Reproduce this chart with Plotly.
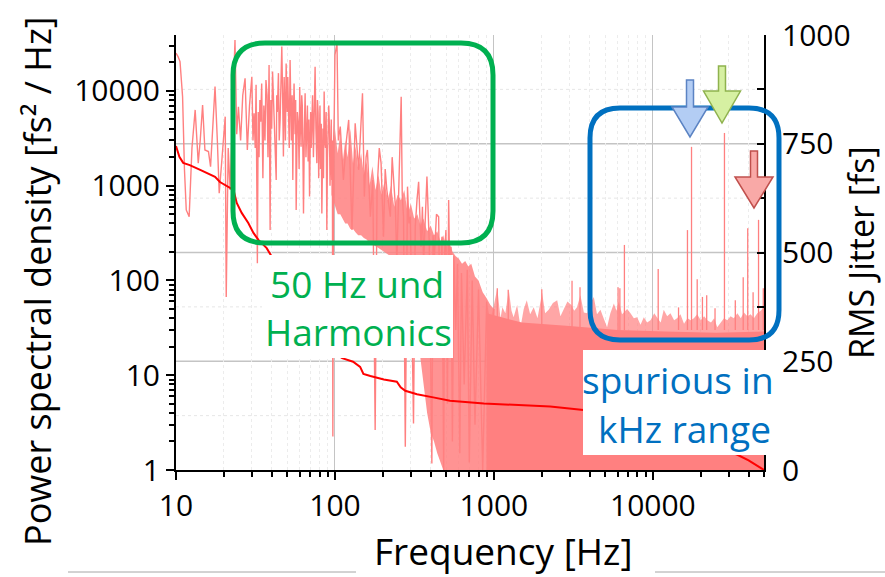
import plotly.graph_objects as go

# ---------------- data ----------------
# low-frequency PSD line [Hz], [fs^2/Hz]
low_f = [10.0, 10.3, 10.6, 11.0, 11.3, 11.6, 12.1, 12.6, 13.2, 13.8, 14.2, 14.7, 15.2, 16.0, 16.5, 17.0, 17.6,
         18.2, 18.7, 19.5, 20.4, 20.7, 21.3, 21.9, 22.8, 23.5, 24.1, 24.7, 25.5, 26.3, 27.2, 28.1, 29.0,
         30.0, 30.5, 31.0, 31.5, 31.9, 32.5, 32.9, 33.3, 33.7, 34.1, 34.6, 35.2, 35.7, 36.3, 36.8, 37.4, 37.9,
         38.5, 39.1, 39.5, 40.0, 40.5, 41.0, 41.8, 42.7, 43.0, 43.4, 44.1, 44.6, 45.2, 45.8, 46.3, 46.9, 47.4,
         47.9, 48.3, 48.8, 49.3, 49.7, 50.1, 50.5, 51.0, 51.6, 52.2, 52.7, 53.2, 53.8, 54.3, 54.8, 55.3, 56.1,
         56.6, 57.0, 57.5, 58.0, 58.9, 59.5, 60.0, 60.6, 61.2, 61.8, 62.3, 62.9, 63.4, 64.2, 64.9, 65.7, 66.5,
         67.1, 67.8, 68.5, 69.2, 70.3, 70.9, 71.5, 72.3, 73.2, 74.1, 75.0, 75.9, 76.9, 77.6, 78.3, 79.0, 79.8,
         80.5, 81.2, 82.0, 82.7, 83.3, 84.0, 84.7, 85.5, 86.3, 87.2, 88.0, 88.9, 89.7, 90.5, 91.4, 92.3, 93.1,
         94.0, 94.8, 95.5, 96.3, 97.0, 97.5, 98.0, 99.0, 100, 103, 105, 108, 113, 118, 122, 128, 134, 141, 145,
         149, 153, 157, 160, 167, 173, 179, 184, 190, 195, 202, 207, 212, 223, 229, 234, 240, 245, 255, 261,
         265, 270, 277, 286, 292, 298, 312, 320, 328, 336, 348, 355, 361, 370, 379, 392, 400, 407, 414, 422,
         435, 449, 460, 471, 483, 490, 499, 510, 519, 528, 537, 548, 560, 575, 590, 610, 625, 650, 680, 700,
         730, 760, 800, 850, 900, 950, 1000]
low_v = [25000, 23000, 20400, 8700, 1500, 555, 471, 2500, 6300, 1730, 3000, 7100, 2380, 2290, 1590, 4000, 11100,
         3000, 832, 2000, 5350, 67, 2500, 900, 8000, 34500, 3500, 6800, 3000, 9000, 13600, 2380, 7000,
         14100, 3000, 5800, 2500, 11600, 152, 6000, 2000, 8000, 4740, 12000, 1200, 7000, 3000, 13000, 9000, 2000,
         18800, 341, 8000, 4000, 16000, 9460, 3000, 1150, 9000, 6000, 15400, 3000, 5000, 12000, 29400, 8000, 2030,
         14000, 8000, 3000, 19500, 9000, 6000, 14000, 5350, 2500, 21200, 7000, 3000, 9000, 1150, 6000, 12000, 3500,
         8000, 555, 5000, 6000, 4200, 1500, 11000, 5000, 2580, 9000, 7000, 2000, 510, 4000, 9460, 2000, 3300,
         7000, 1800, 5000, 767, 6000, 2500, 4560, 9000, 2000, 6000, 18000, 4000, 1730, 8000, 6000, 1200, 3870,
         7000, 1500, 4500, 510, 3000, 4000, 1200, 9840, 3000, 2500, 6000, 341, 2000, 3000, 7000, 4200, 1000,
         2000, 5000, 1150, 3000, 2.25, 1000, 2800, 6000, 24000, 31900, 3000, 4200, 1150, 3000, 4940, 341, 4560,
         1470, 3500, 9460, 767, 2000, 2380, 471, 1150, 2.64, 900, 2500, 1730, 290, 1500, 900, 471, 2000, 1150,
         600, 152, 3000, 8700, 800, 471, 1.76, 977, 400, 471, 3.1, 370, 700, 1100, 227, 600, 152, 500, 1250,
         247, 12, 1.17, 300, 178, 500, 471, 20, 290, 1.0, 200, 341, 5, 708, 100, 227, 2, 180, 30, 150, 1.5,
         120, 8, 130, 1.2, 100, 3, 80, 1.0, 60, 2, 50]

# dense mains-harmonic core (upper / lower edge)
core_f = [95, 100, 104, 108, 112, 116, 120, 125, 130, 135, 140, 146, 152, 158, 165, 172, 180, 188, 196, 205,
          215, 225, 236, 248, 260, 273, 287, 300, 315, 330, 345, 360, 380, 400, 420, 440, 460, 480, 500, 525,
          550, 575, 600, 630, 660, 690, 720, 760, 800, 850, 900, 950, 1000]
core_hi = [1500, 4000, 2200, 3500, 1800, 3000, 2000, 4000, 1700, 2600, 1500, 2200, 1300, 1800, 1000, 1600, 900,
           1300, 800, 1100, 700, 1000, 600, 800, 700, 900, 500, 650, 450, 500, 380, 450, 330, 380, 300, 330, 260,
           300, 230, 250, 200, 180, 170, 150, 160, 140, 150, 110, 100, 75, 65, 55, 50]
core_lo = [800, 600, 500, 500, 450, 400, 400, 350, 350, 320, 300, 300, 280, 270, 250, 240, 230, 220, 210, 200,
           190, 180, 170, 160, 150, 130, 110, 90, 60, 30, 15, 8, 4, 2.5, 2, 1.5, 1.2, 1, 0.5, 0.5,
           0.5, 0.5, 0.5, 0.5, 0.5, 0.5, 0.5, 0.5, 0.5, 0.5, 0.5, 0.5, 0.5]

# high-frequency noise floor (solid part) and ragged top
base_f = [900, 1500, 3000, 6000, 12000, 25000, 50000]
base_v = [45, 36, 33, 30, 29, 28, 29]
hf_f = [900, 950, 1000, 1050, 1100, 1130, 1180, 1240, 1290, 1330, 1400, 1470, 1540, 1610, 1690, 1780, 1880,
        2010, 2100, 2210, 2350, 2500, 2620, 2750, 2900, 3070, 3200, 3330, 3500, 3680, 3860, 4050, 4250, 4450,
        4680, 4900, 5150, 5400, 5680, 5900, 6100, 6400, 6890, 7230, 7590, 7960, 8360, 8770, 9200, 9660, 10200,
        10700, 11200, 11700, 12300, 12900, 13600, 14200, 14900, 15700, 16500, 17300, 18100, 19000, 20000,
        21000, 22000, 23200, 24300, 25400, 26700, 28000, 29400, 30800, 32300, 34000, 35700, 37400, 39300,
        41200, 43200, 45400, 47600, 50000]
hf_top = [60, 38, 55, 83, 40, 52, 45, 80, 48, 41, 55, 32, 50, 62, 44, 52, 40, 74, 45, 49, 58, 62, 42, 49, 60,
          55, 48, 52, 70, 46, 45, 58, 67, 44, 49, 40, 32, 45, 57, 48, 60, 44, 50, 45, 40, 41, 34, 41, 36, 38,
          45, 40, 36, 49, 42, 45, 38, 40, 44, 35, 40, 38, 40, 44, 38, 42, 38, 36, 40, 32, 36, 40, 38, 42, 40,
          45, 40, 46, 42, 44, 40, 45, 48, 52]

# spurious lines
spur_f = [1050, 1230, 2000, 3100, 3480, 6040, 6200, 6620, 10800, 14500, 16500, 17500, 19000, 20500, 21800,
          24600, 28200, 33000, 37000, 39500, 42700, 46200, 49500]
spur_v = [83, 80, 81, 99, 85, 85, 83, 237, 132, 52, 340, 2570, 103, 67, 70, 51, 3600, 62, 108, 356, 75, 436, 83]
spur_base = 30

# integrated RMS jitter [fs]
rms_f = [10, 10.5, 11.1, 12.2, 14.2, 16.4, 17.6, 18.9, 21.3, 23.0, 24.1, 25.9, 28.5, 30.7, 33.0, 37.2, 40.1,
         50, 60, 75, 90, 100, 111, 130, 144, 151, 167, 203, 245, 259, 277, 328, 415, 529, 864, 1400, 2260,
         3660, 5000, 7000, 10000, 15000, 17000, 18000, 25000, 28000, 29000, 34000, 40000, 45000, 50000]
rms_v = [745, 720, 706, 701, 690, 678, 674, 662, 651, 644, 614, 591, 568, 545, 529, 510, 490, 420, 375, 320,
         285, 268, 257, 249, 237, 221, 216, 208, 203, 190, 182, 174, 167, 159, 153, 149, 146, 138, 133, 127,
         120, 110, 104, 80, 70, 62, 45, 35, 22, 10, 0]

x_ticks = [10, 100, 1000, 10000]
y_ticks = [1, 10, 100, 1000, 10000]
y2_ticks = [0, 250, 500, 750, 1000]
y2_minor = [125, 375, 625, 875]

# ---------------- styling helpers ----------------
PINK = "#ff8080"
X0, X1, Y0, Y1 = 176, 764, 35, 470   # plot area in pixels


def P(x, y):
    return (x - X0) / (X1 - X0), (Y1 - y) / (Y1 - Y0)


def path(points, close=True):
    s = ""
    for i, (x, y) in enumerate(points):
        px, py = P(x, y)
        s += ("M" if i == 0 else "L") + f"{px:.5f},{py:.5f} "
    return s + ("Z" if close else "")


def rounded(x0, y0, x1, y1, r):
    def p(x, y):
        a, b = P(x, y)
        return f"{a:.5f},{b:.5f}"
    return (f"M{p(x0 + r, y0)} L{p(x1 - r, y0)} Q{p(x1, y0)} {p(x1, y0 + r)} "
            f"L{p(x1, y1 - r)} Q{p(x1, y1)} {p(x1 - r, y1)} L{p(x0 + r, y1)} "
            f"Q{p(x0, y1)} {p(x0, y1 - r)} L{p(x0, y0 + r)} Q{p(x0, y0)} {p(x0 + r, y0)} Z")


def arrow(cx, top, head_y, tip, shaft_w, head_w):
    return path([(cx - shaft_w / 2, top), (cx + shaft_w / 2, top), (cx + shaft_w / 2, head_y),
                 (cx + head_w / 2, head_y), (cx, tip), (cx - head_w / 2, head_y),
                 (cx - shaft_w / 2, head_y)])


fig = go.Figure()

# dense core
fig.add_trace(go.Scatter(x=core_f + core_f[::-1], y=core_hi + core_lo[::-1], fill="toself",
                         fillcolor="rgba(255,128,128,0.85)", line=dict(width=0), mode="lines",
                         hoverinfo="skip"))
# HF floor solid
fig.add_trace(go.Scatter(x=base_f + [base_f[-1], base_f[0]], y=base_v + [0.3, 0.3], fill="toself",
                         fillcolor=PINK, line=dict(width=0), mode="lines", hoverinfo="skip"))
# HF ragged top
fig.add_trace(go.Scatter(x=hf_f + [hf_f[-1], hf_f[0]], y=hf_top + [0.3, 0.3], fill="toself",
                         fillcolor="rgba(255,128,128,0.7)", line=dict(width=0), mode="lines",
                         hoverinfo="skip"))
# LF line
fig.add_trace(go.Scatter(x=low_f, y=low_v, mode="lines", line=dict(color=PINK, width=1.4)))
# spurs
sx, sy = [], []
for f, v in zip(spur_f, spur_v):
    sx += [f, f, None]
    sy += [spur_base, v, None]
fig.add_trace(go.Scatter(x=sx, y=sy, mode="lines", line=dict(color=PINK, width=1.3)))
# RMS jitter
fig.add_trace(go.Scatter(x=rms_f, y=rms_v, yaxis="y2", mode="lines", line=dict(color="#ff0000", width=2)))

TICKFONT = dict(family="Open Sans", size=30, color="black")

fig.update_layout(
    width=885, height=577, showlegend=False,
    margin=dict(l=X0, r=885 - X1, t=Y0, b=577 - Y1),
    paper_bgcolor="white", plot_bgcolor="white",
    xaxis=dict(type="log", range=[1, 4.699], tickvals=x_ticks, ticktext=[str(v) for v in x_ticks],
               showline=True, linecolor="black", linewidth=2, ticks="outside", ticklen=8, tickwidth=1.5,
               tickcolor="black", showgrid=True, gridcolor="#c4c4c4", gridwidth=1, zeroline=False,
               tickfont=TICKFONT,
               minor=dict(tickmode="array", tickvals=[m * 10 ** e for e in range(1, 5) for m in range(2, 10)],
                          ticks="outside", ticklen=5, tickcolor="black", showgrid=True,
                          gridcolor="#ececec", griddash="dot")),
    yaxis=dict(type="log", range=[0, 4.59], tickvals=y_ticks, ticktext=[str(v) for v in y_ticks],
               showline=True, linecolor="black", linewidth=2, ticks="outside", ticklen=8, tickwidth=1.5,
               tickcolor="black", showgrid=False, zeroline=False, tickfont=TICKFONT,
               minor=dict(tickmode="array", tickvals=[m * 10 ** e for e in range(0, 5) for m in range(2, 10)],
                          ticks="outside", ticklen=5, tickcolor="black", showgrid=False)),
    yaxis2=dict(overlaying="y", side="right", range=[0, 1000], tickvals=y2_ticks,
                ticktext=[str(v) for v in y2_ticks], showline=True, linecolor="black", linewidth=2,
                ticks="inside", ticklen=7, tickwidth=1.5, tickcolor="black", showgrid=False,
                zeroline=False, tickfont=TICKFONT, ticklabelstandoff=10,
                minor=dict(tickmode="array", tickvals=y2_minor, ticks="inside", ticklen=7,
                           tickcolor="black", showgrid=False)),
)

shapes = []
# horizontal grid of the RMS axis, kept beneath the data
for v in y2_ticks[1:-1]:
    shapes.append(dict(type="line", xref="paper", yref="y2", x0=0, x1=1, y0=v, y1=v,
                       line=dict(color="#c4c4c4", width=1.5), layer="below"))
for v in y2_minor:
    shapes.append(dict(type="line", xref="paper", yref="y2", x0=0, x1=1, y0=v, y1=v,
                       line=dict(color="#e6e6e6", width=1, dash="dot"), layer="below"))
# white label boxes
for (a, b, c, d) in [(262, 255, 453, 358), (583, 350, 770, 455)]:
    (px0, py1), (px1, py0) = P(a, b), P(c, d)
    shapes.append(dict(type="rect", xref="paper", yref="paper", x0=px0, x1=px1, y0=py0, y1=py1,
                       fillcolor="white", line=dict(width=0), layer="above"))
# rounded boxes
shapes.append(dict(type="path", xref="paper", yref="paper", path=rounded(233, 43, 493, 243, 32),
                   line=dict(color="#00b050", width=5), layer="above"))
shapes.append(dict(type="path", xref="paper", yref="paper", path=rounded(590, 108, 779, 340, 30),
                   line=dict(color="#0070c0", width=5), layer="above"))
# arrows
shapes.append(dict(type="path", xref="paper", yref="paper", path=arrow(690, 80, 107, 137, 7, 36),
                   fillcolor="#b3cdf4", line=dict(color="#5b83c3", width=1.5), layer="above"))
shapes.append(dict(type="path", xref="paper", yref="paper", path=arrow(722, 66, 91, 123, 7, 37),
                   fillcolor="#d6f0a2", line=dict(color="#8fb24e", width=1.5), layer="above"))
shapes.append(dict(type="path", xref="paper", yref="paper", path=arrow(754, 151, 177, 208, 7, 38),
                   fillcolor="#f9a9a7", line=dict(color="#c0504d", width=1.5), layer="above"))
# slide rules at bottom
for (a, c) in [(68, 356), (655, 885)]:
    (px0, py), (px1, _) = P(a, 572), P(c, 572)
    shapes.append(dict(type="line", xref="paper", yref="paper", x0=px0, x1=px1, y0=py, y1=py,
                       line=dict(color="#a6a6a6", width=1)))
fig.update_layout(shapes=shapes)


def ann(text, x, y, size, color="black", angle=0, family="Open Sans"):
    ax, ay = P(x, y)
    fig.add_annotation(text=text, x=ax, y=ay, xref="paper", yref="paper", showarrow=False,
                       xanchor="center", yanchor="middle", textangle=angle,
                       font=dict(family=family, size=size, color=color))


ann("Frequency [Hz]", 503, 550, 37)
ann("Power spectral density [fs² / Hz]", 37, 281, 36, angle=-90)
ann("RMS Jitter [fs]", 861, 253, 34, angle=-90)
ann("50 Hz und", 357, 283, 37, color="#00b050")
ann("Harmonics", 358, 331, 37, color="#00b050")
ann("spurious in", 678, 379, 37, color="#0070c0")
ann("kHz range", 684, 428, 37, color="#0070c0")

fig.write_html("out.html")
